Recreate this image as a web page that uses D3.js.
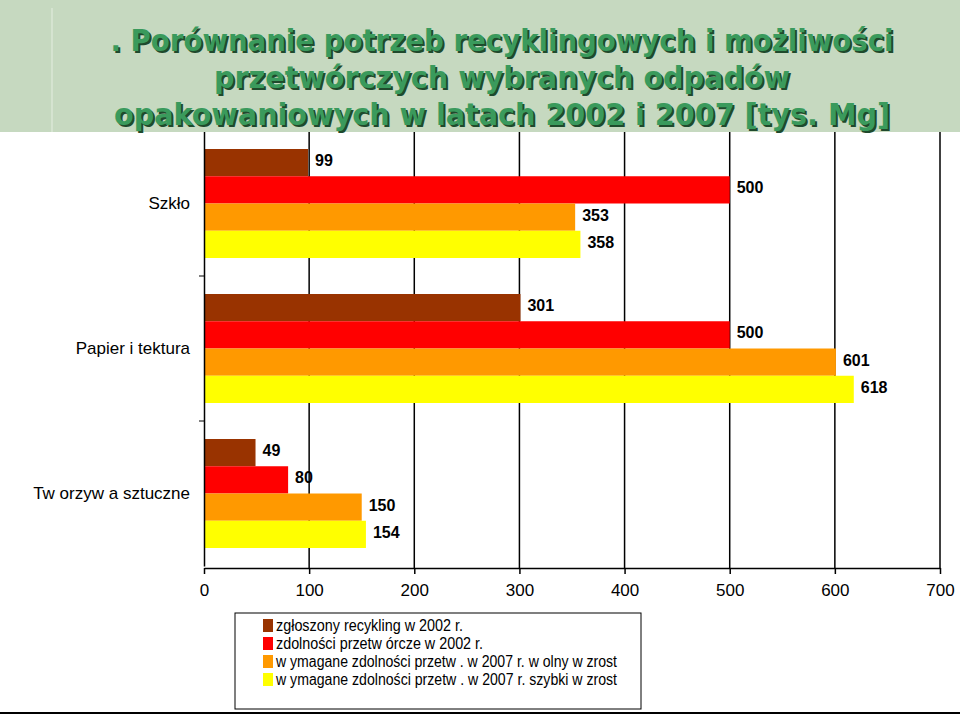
<!DOCTYPE html>
<html><head><meta charset="utf-8">
<script src="https://cdn.jsdelivr.net/npm/d3@7"></script>
<style>body{margin:0;background:#fff}</style>
</head><body>
<script>
var categories = ["Szkło", "Papier i tektura", "Tw orzyw a sztuczne"];
var seriesNames = ["zgłoszony recykling w  2002 r.", "zdolności przetw órcze w  2002 r.",
  "w ymagane zdolności przetw . w  2007 r. w olny w zrost", "w ymagane zdolności przetw . w  2007 r. szybki w zrost"];
var colors = ["#993300", "#ff0000", "#ff9900", "#ffff00"];
var values = [[99, 500, 353, 358], [301, 500, 601, 618], [49, 80, 150, 154]];
var ticks = [0, 100, 200, 300, 400, 500, 600, 700];

var svg = d3.select("body").append("svg").attr("width", 960).attr("height", 716);

var x = d3.scaleLinear().domain([0, 700]).range([204, 940]);
var y = d3.scaleBand().domain(categories).range([131, 566]);
var inner = d3.scaleBand().domain(d3.range(4)).range([0, 109]);

// gridlines
svg.selectAll("line.grid").data(ticks.slice(1)).enter().append("line")
  .attr("x1", d => x(d)).attr("x2", d => x(d)).attr("y1", 131).attr("y2", 568)
  .attr("stroke", "#000").attr("stroke-width", 1.5);

var g = svg.selectAll("g.cat").data(values).enter().append("g")
  .attr("transform", (d, i) => "translate(0," + (y(categories[i]) + (y.bandwidth() - 109) / 2) + ")");
g.selectAll("rect").data(d => d).enter().append("rect")
  .attr("x", x(0)).attr("y", (d, i) => inner(i)).attr("width", d => x(d) - x(0))
  .attr("height", inner.bandwidth()).attr("fill", (d, i) => colors[i]);
g.selectAll("text").data(d => d).enter().append("text")
  .attr("x", d => x(d) + 7).attr("y", (d, i) => inner(i) + inner.bandwidth() / 2 - 2)
  .attr("dy", "0.35em").attr("font-family", "Liberation Sans, Arial").attr("font-weight", "bold")
  .attr("font-size", 16).text(d => d);

// axes
var xa = svg.append("g").attr("transform", "translate(0,568)")
  .call(d3.axisBottom(x).tickValues(ticks).tickSize(6).tickSizeOuter(0));
xa.selectAll("text").attr("font-family", "Liberation Sans, Arial").attr("font-size", 17).attr("dy", "1.1em");
xa.selectAll("line,path").attr("stroke", "#000").attr("stroke-width", 1.5);
var ya = svg.append("g").attr("transform", "translate(204,0)")
  .call(d3.axisLeft(y).tickSize(0).tickPadding(14));
ya.selectAll("text").attr("font-family", "Liberation Sans, Arial").attr("font-size", 17);
ya.select("path").attr("stroke", "#000").attr("stroke-width", 1.5);
ya.selectAll("line.sep").data(categories.slice(1)).enter().append("line")
  .attr("x1", -5).attr("x2", 0).attr("y1", d => y(d)).attr("y2", d => y(d)).attr("stroke", "#000");

// title
svg.append("rect").attr("x", 0).attr("y", 0).attr("width", 960).attr("height", 132).attr("fill", "#c6d9c0");
svg.append("line").attr("x1", 52).attr("x2", 52).attr("y1", 8).attr("y2", 132).attr("stroke", "#e4eee0");
var titles = [". Porównanie potrzeb recyklingowych i możliwości", "przetwórczych wybranych odpadów", "opakowaniowych w latach 2002 i 2007 [tys. Mg]"];
var titleLen = [783, 576, 776];
[[2, 2, "#1f4a2c"], [0, 0, "#3a9a5c"]].forEach(function(s) {
  svg.selectAll(null).data(titles).enter().append("text")
    .attr("x", 502 + s[0]).attr("y", (d, i) => 51 + i * 37 + s[1]).attr("text-anchor", "middle")
    .attr("font-family", "DejaVu Sans Condensed, DejaVu Sans").attr("font-weight", "bold")
    .attr("font-size", 31).attr("textLength", (d, i) => titleLen[i]).attr("lengthAdjust", "spacingAndGlyphs")
    .attr("fill", s[2]).text(d => d);
});

// legend
svg.append("rect").attr("x", 235).attr("y", 613).attr("width", 406).attr("height", 96)
  .attr("fill", "#fff").attr("stroke", "#000").attr("stroke-width", 1);
var lg = svg.selectAll("g.leg").data(seriesNames).enter().append("g")
  .attr("transform", (d, i) => "translate(263," + (619 + i * 18) + ")");
lg.append("rect").attr("width", 10).attr("height", 13).attr("fill", (d, i) => colors[i]);
lg.append("text").attr("x", 13).attr("y", 12).attr("font-family", "Liberation Sans, Arial")
  .attr("font-size", 16).attr("textLength", (d, i) => [187, 207, 341, 341][i])
  .attr("lengthAdjust", "spacingAndGlyphs").text(d => d);
svg.append("line").attr("x1", 0).attr("x2", 960).attr("y1", 713).attr("y2", 713).attr("stroke", "#000").attr("stroke-width", 2);
</script>
</body></html>
